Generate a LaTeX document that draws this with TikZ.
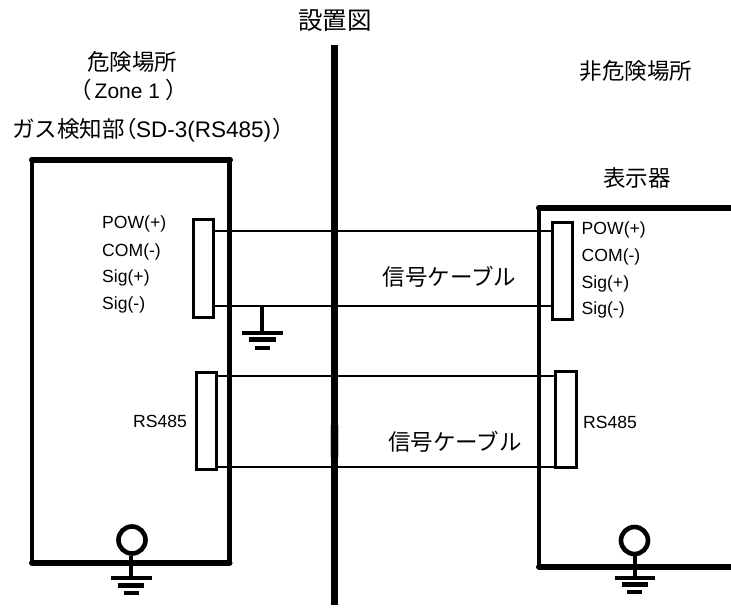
\documentclass[tikz,border=0pt]{standalone}
\usepackage{fontspec}
\setmainfont{Liberation Sans}
\newfontfamily\jp{Noto Sans CJK JP}
\tikzset{
  x=1pt,y=-1pt,
  wall/.style={line width=4.4pt,line join=round},
  thickedge/.style={line width=6pt,line cap=round},
  divider/.style={line width=7pt},
  seam/.style={line width=0.8pt,draw=black!22},
  term/.style={draw,line width=3pt,fill=white,minimum width=20.5pt,inner sep=0pt,outer sep=0pt},
  wire/.style={line width=1.6pt},
  wireb/.style={line width=2pt},
  pin/.style={inner sep=0pt,anchor=west,font=\fontsize{17.6}{20}\selectfont},
  title/.style={inner sep=0pt,font=\fontsize{22.5}{26}\selectfont\jp},
  rbar/.style={line width=4pt},
  rbarb/.style={line width=5pt},
  stem/.style={line width=4pt},
  eye/.style={draw,circle,line width=4.6pt,minimum size=27pt,inner sep=0pt,fill=white},
}
\begin{document}
\begin{tikzpicture}
\useasboundingbox (0,0) rectangle (731,608);
% divider
\draw[divider] (334.5,45) -- (334.5,605);
\draw[seam] (330.6,425) -- (330.6,457);
\draw[seam] (338.4,425) -- (338.4,457);
% left box
\draw[wall] (32,160) -- (32,563);
\draw[wall] (229.5,160) -- (229.5,563);
\draw[thickedge] (32,159.5) -- (230,159.5);
\draw[thickedge] (32,563) -- (229.5,563);
% right box
\draw[wall] (539,208) -- (539,567);
\draw[thickedge] (539,207.5) -- (731,207.5);
\draw[thickedge] (539,567) -- (731,567);
% terminals
\node[term,minimum height=98pt] (lt) at (203.5,268) {};
\node[term,minimum height=97pt] (ll) at (206.5,420.5) {};
\node[term,minimum height=97pt] (rt) at (562.5,271) {};
\node[term,minimum height=96pt] (rl) at (566,419) {};
% wire ends
\coordinate (lta) at (lt.east |- 0,231);
\coordinate (ltb) at (lt.east |- 0,306);
\coordinate (rta) at (rt.west |- 0,231);
\coordinate (rtb) at (rt.west |- 0,306);
\coordinate (lla) at (ll.east |- 0,376);
\coordinate (llb) at (ll.east |- 0,467);
\coordinate (rla) at (rl.west |- 0,376);
\coordinate (rlb) at (rl.west |- 0,467);
\draw[wire] (lta) -- (rta);
\draw[wire] (ltb) -- (rtb);
\draw[wireb] (lla) -- (rla);
\draw[wireb] (llb) -- (rlb);
% cable earth
\coordinate (ge) at (262,306);
\coordinate (gb) at (262,333);
\draw[stem] (ge) -- (gb);
\draw[rbar] ([xshift=-20pt]gb) -- ([xshift=20.5pt]gb);
\draw[rbarb] ([xshift=-13.5pt,yshift=-6.5pt]gb) -- ([xshift=13.5pt,yshift=-6.5pt]gb);
\draw[rbar] ([xshift=-7.5pt,yshift=-14.5pt]gb) -- ([xshift=7.5pt,yshift=-14.5pt]gb);
% left earth
\coordinate (gl) at (131,578);
\node[eye] (el) at (132,540) {};
\draw[stem] (el.south -| gl) -- (gl);
\draw[rbar] ([xshift=-20pt]gl) -- ([xshift=20.5pt]gl);
\draw[rbarb] ([xshift=-13pt,yshift=-7pt]gl) -- ([xshift=13pt,yshift=-7pt]gl);
\draw[rbar] ([xshift=-7.5pt,yshift=-14.5pt]gl) -- ([xshift=7.5pt,yshift=-14.5pt]gl);
% right earth
\coordinate (gr) at (634.5,577.5);
\node[eye] (er) at (634.5,540.5) {};
\draw[stem] (er.south -| gr) -- (gr);
\draw[rbar] ([xshift=-20pt]gr) -- ([xshift=20.5pt]gr);
\draw[rbarb] ([xshift=-13pt,yshift=-7pt]gr) -- ([xshift=13pt,yshift=-7pt]gr);
\draw[rbar] ([xshift=-7.5pt,yshift=-14.5pt]gr) -- ([xshift=7.5pt,yshift=-14.5pt]gr);
% titles
\node[title,font=\fontsize{24.5}{28}\selectfont\jp] (t0) at (335,21) {設置図};
\node[title] (t1) at (132,62) {危険場所};
\node[title,anchor=west] (t2) at (69,90) {（\hspace{3pt}{\rmfamily\fontsize{21}{26}\selectfont Zone 1}\hspace{5pt}）};
\node[title,anchor=west] (t3) at (12,130) {ガス検知部\hspace{-10pt}（\hspace{-1pt}{\rmfamily SD-3(RS485)}\hspace{1pt}）};
\node[title] (t4) at (636,71) {非危険場所};
\node[title] (t5) at (637,178) {表示器};
\node[title] (t6) at (449.5,277) {信号ケーブル};
\node[title] (t7) at (455,442) {信号ケーブル};
% pin labels
\node[pin] (p1) at (102,224) {POW(+)};
\node[pin] (p2) at (102,252) {COM(-)};
\node[pin] (p3) at (102,278) {Sig(+)};
\node[pin] (p4) at (102,305) {Sig(-)};
\node[pin] (p5) at (133,421.5) {RS485};
\node[pin] (q1) at (581.5,230) {POW(+)};
\node[pin] (q2) at (581.5,257) {COM(-)};
\node[pin] (q3) at (581.5,284) {Sig(+)};
\node[pin] (q4) at (581.5,310) {Sig(-)};
\node[pin] (q5) at (583,422) {RS485};
\end{tikzpicture}
\end{document}
